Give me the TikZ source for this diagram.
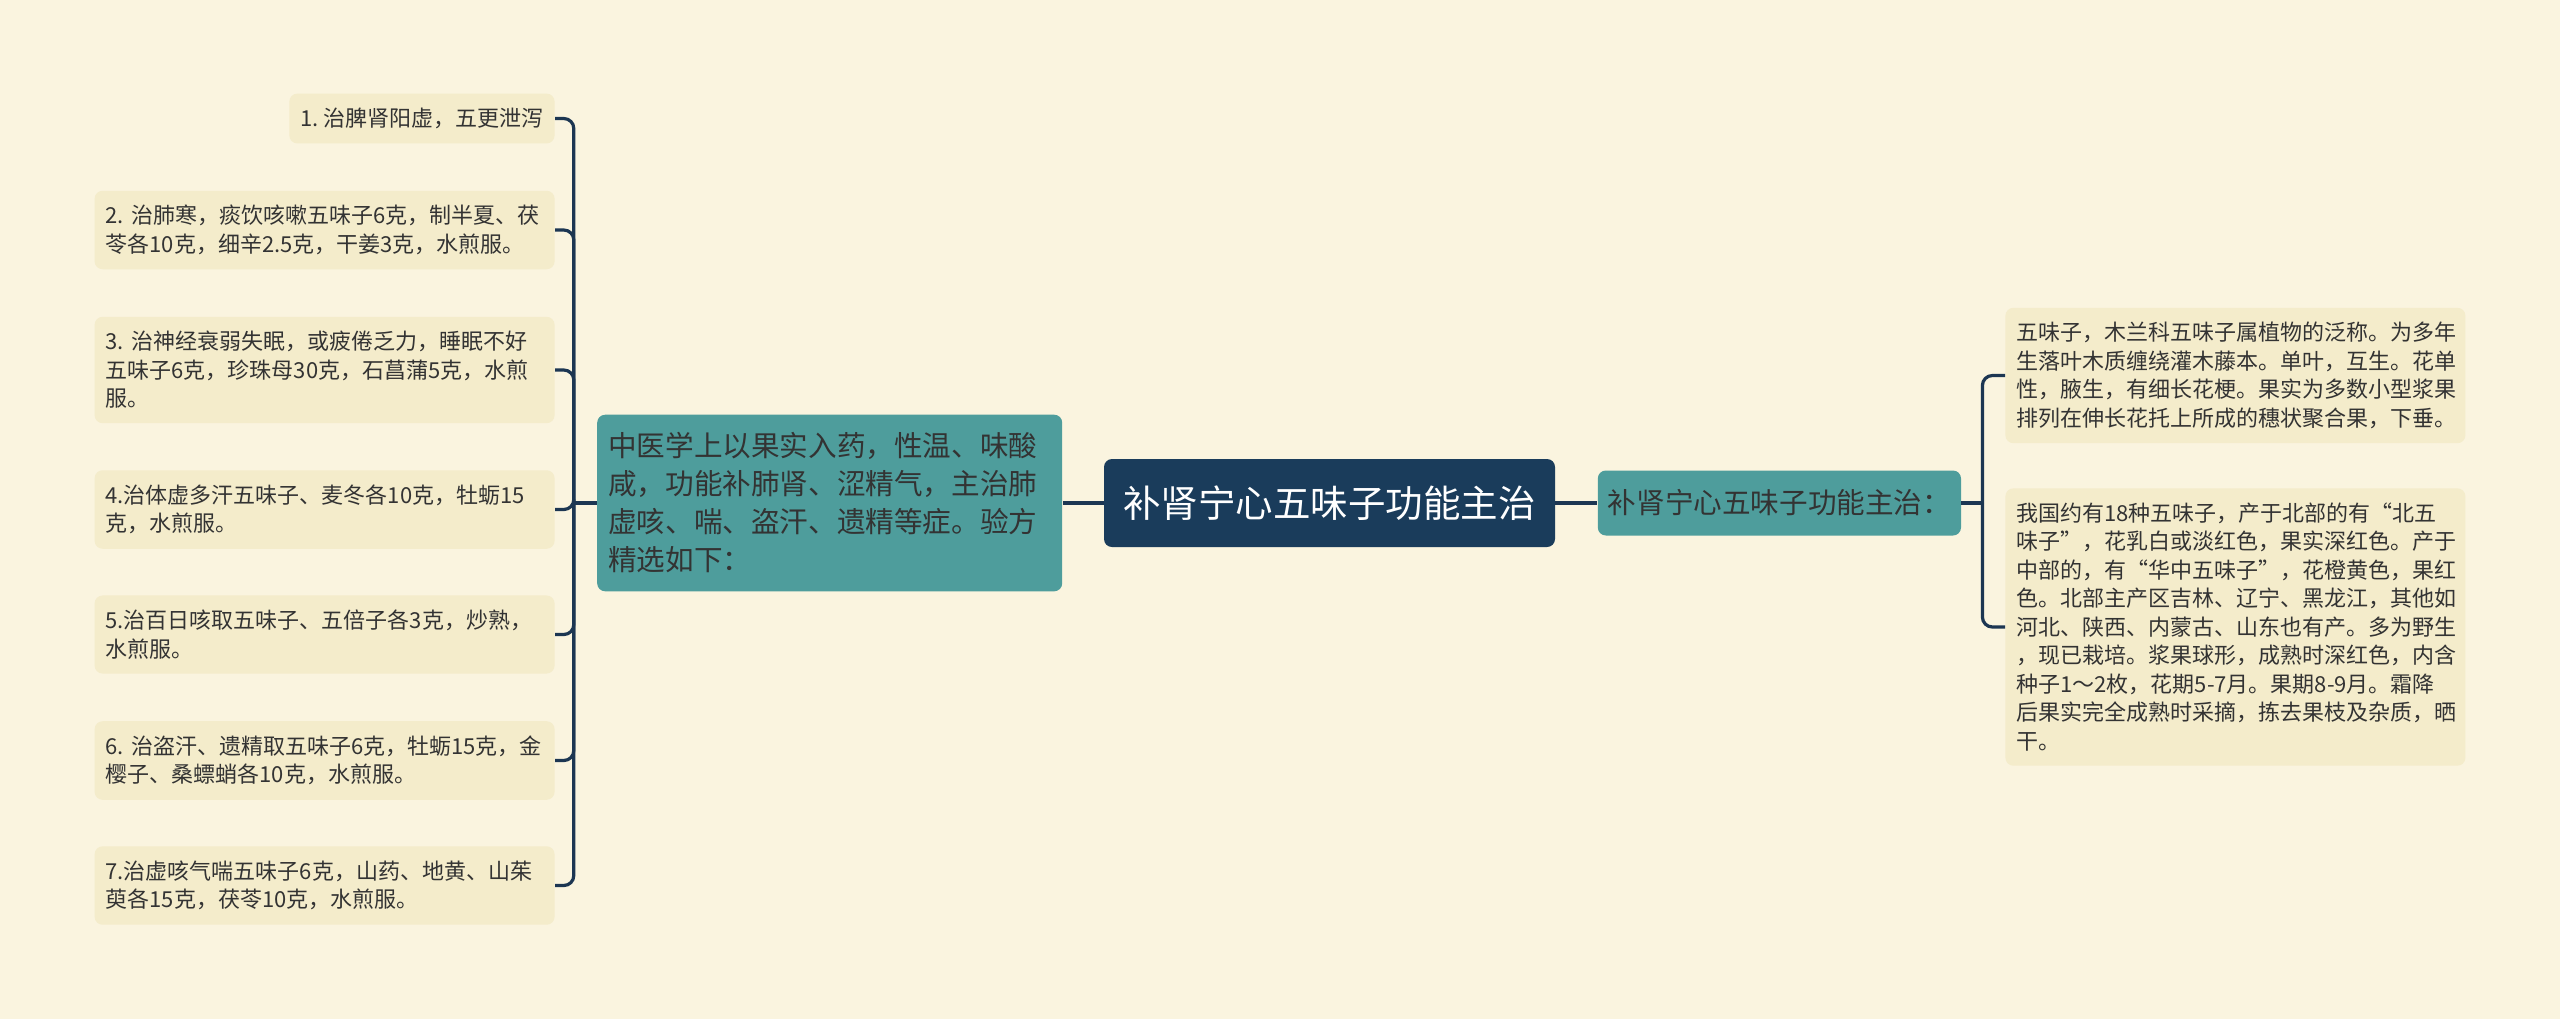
\documentclass[tikz,border=0pt]{standalone}
\usepackage{fontspec}
\setmainfont{Noto Sans CJK SC}
\usetikzlibrary{positioning}
\definecolor{bgcream}{HTML}{FAF4DF}
\definecolor{leafbg}{HTML}{F4ECCB}
\definecolor{tealbox}{HTML}{4E9D9C}
\definecolor{navybox}{HTML}{1A3C5B}
\definecolor{linknavy}{HTML}{1C3652}
\definecolor{inktext}{HTML}{333333}
\tikzset{
    root/.style={rectangle, fill=navybox, text=white, rounded corners=4pt, minimum width=225.5pt, minimum height=44pt, inner xsep=0pt, font=\fontsize{18.75pt}{22pt}\selectfont},
    branch/.style={rectangle, fill=tealbox, text=inktext, rounded corners=4pt, inner xsep=5.5pt, font=\fontsize{14.3pt}{19pt}\selectfont},
    leaf/.style={rectangle, fill=leafbg, text=inktext, rounded corners=4pt, inner xsep=5.5pt, inner ysep=7.25pt, align=left, font=\fontsize{11pt}{14.25pt}\selectfont},
    leafwide/.style={leaf, text width=219pt},
    link/.style={draw=linknavy, line width=1.6pt, rounded corners=5pt}
}

\begin{document}
\begin{tikzpicture}[x=0.5pt, y=-0.5pt]
    \fill [bgcream] (0,0) rectangle (2560,1019);
    \useasboundingbox (0,0) rectangle (2560,1019);

    % Main topics
    \node [root] (main) at (1329.5,503) {补肾宁心五味子功能主治};
    \node [branch, left=20.5pt of main, text width=221.5pt, align=left, inner ysep=9pt] (usage) {中医学上以果实入药，性温、味酸\\咸，功能补肺肾、涩精气，主治肺\\虚咳、喘、盗汗、遗精等症。验方\\精选如下：};
    \node [branch, right=21pt of main, minimum height=32.5pt, inner xsep=5pt] (effect) {补肾宁心五味子功能主治：};

    % Prescriptions
    \node [leaf, anchor=east] (p1) at (555,118.5) {1.~治脾肾阳虚，五更泄泻};
    \node [leafwide, anchor=east] (p2) at (555,230) {2.~治肺寒，痰饮咳嗽五味子6克，制半夏、茯\\苓各10克，细辛2.5克，干姜3克，水煎服。};
    \node [leafwide, anchor=east] (p3) at (555,370) {3.~治神经衰弱失眠，或疲倦乏力，睡眠不好\\五味子6克，珍珠母30克，石菖蒲5克，水煎\\服。};
    \node [leafwide, anchor=east] (p4) at (555,509.5) {4.治体虚多汗五味子、麦冬各10克，牡蛎15\\克，水煎服。};
    \node [leafwide, anchor=east] (p5) at (555,634.5) {5.治百日咳取五味子、五倍子各3克，炒熟，\\水煎服。};
    \node [leafwide, anchor=east] (p6) at (555,760.5) {6.~治盗汗、遗精取五味子6克，牡蛎15克，金\\樱子、桑螵蛸各10克，水煎服。};
    \node [leafwide, anchor=east] (p7) at (555,885.5) {7.治虚咳气喘五味子6克，山药、地黄、山茱\\萸各15克，茯苓10克，水煎服。};

    % Descriptions
    \node [leafwide, anchor=west] (d1) at (2005,375.5) {五味子，木兰科五味子属植物的泛称。为多年\\生落叶木质缠绕灌木藤本。单叶，互生。花单\\性，腋生，有细长花梗。果实为多数小型浆果\\排列在伸长花托上所成的穗状聚合果，下垂。};
    \node [leafwide, anchor=west] (d2) at (2005,627) {我国约有18种五味子，产于北部的有“北五\\味子”，花乳白或淡红色，果实深红色。产于\\中部的，有“华中五味子”，花橙黄色，果红\\色。北部主产区吉林、辽宁、黑龙江，其他如\\河北、陕西、内蒙古、山东也有产。多为野生\\，现已栽培。浆果球形，成熟时深红色，内含\\种子1～2枚，花期5-7月。果期8-9月。霜降\\后果实完全成熟时采摘，拣去果枝及杂质，晒\\干。};

    % Connectors
    \draw [link] (main.west) -- (usage.east);
    \draw [link] (main.east) -- (effect.west);
    \coordinate (lsplit) at ([xshift=-11.5pt]usage.west);
    \draw [link] (usage.west) -- (lsplit);
    \foreach \p in {p1,p2,p3,p4,p5,p6,p7}
        \draw [link] (lsplit) |- (\p.east);
    \coordinate (rsplit) at ([xshift=10.5pt]effect.east);
    \draw [link] (effect.east) -- (rsplit);
    \foreach \q in {d1,d2}
        \draw [link] (rsplit) |- (\q.west);
\end{tikzpicture}
\end{document}
